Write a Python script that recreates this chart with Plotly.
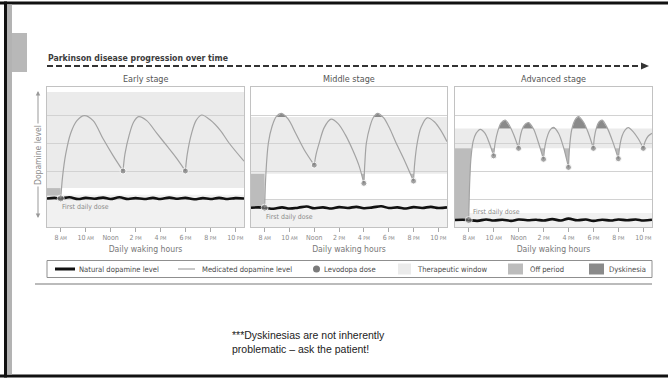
import plotly.graph_objects as go

W, H = 668, 378


def px(x):
    return x / W


def py(y):
    return 1 - y / H


FONT = "DejaVu Sans Condensed, Liberation Sans Narrow, Arial Narrow, sans-serif"

# ---------------- data ----------------
stage_titles = ["Early stage", "Middle stage", "Advanced stage"]
tick_hours = [8, 10, 12, 14, 16, 18, 20, 22]
tick_nums = ["8", "10", "Noon", "2", "4", "6", "8", "10"]
tick_suffix = ["AM", "AM", "", "PM", "PM", "PM", "PM", "PM"]
x_range = [6.9, 22.7]
y_range = [0, 5]

# therapeutic window [low, high] per stage
window = [[1.39, 4.82], [1.9, 3.93], [2.81, 3.52]]
# faint shaded zone under the natural level [low, high]
base_zone = [[0, 1.15], [0, 0.96], [0, 0.5]]

# natural dopamine level (wavy)
nat_x = [6.9, 7.5, 8, 8.7, 9.4, 10, 10.7, 11.4, 12, 12.7, 13.4, 14, 14.7, 15.4, 16, 16.7,
         17.4, 18, 18.7, 19.4, 20, 20.7, 21.4, 22, 22.7]
nat_y = [
    [1.02, 1.04, 1.02, 1.06, 1.0, 1.04, 1.01, 1.05, 1.0, 1.06, 1.0, 1.03, 1.0, 1.04, 1.0,
     1.05, 1.01, 1.04, 0.99, 1.03, 1.0, 1.04, 1.0, 1.03, 1.02],
    [0.69, 0.7, 0.69, 0.65, 0.7, 0.66, 0.69, 0.73, 0.67, 0.7, 0.66, 0.71, 0.68, 0.72, 0.67,
     0.7, 0.74, 0.68, 0.7, 0.66, 0.71, 0.68, 0.72, 0.68, 0.7],
    [0.25, 0.26, 0.25, 0.22, 0.27, 0.23, 0.26, 0.22, 0.27, 0.24, 0.26, 0.23, 0.28, 0.23, 0.3,
     0.24, 0.27, 0.22, 0.26, 0.23, 0.27, 0.24, 0.27, 0.23, 0.26],
]

# medicated dopamine level, one list of segments (dose to dose) per stage
med_segments = [
    [
        ([8, 8.15, 8.4, 8.8, 9.3, 9.9, 10.6, 11.4, 12.2, 13.0],
         [1.02, 1.8, 2.6, 3.35, 3.8, 3.98, 3.8, 3.15, 2.55, 2.0]),
        ([13.0, 13.15, 13.5, 13.85, 14.25, 14.9, 15.7, 16.6, 17.3, 18.0],
         [2.0, 2.6, 3.3, 3.75, 3.94, 3.8, 3.35, 2.85, 2.45, 2.0]),
        ([18.0, 18.15, 18.5, 18.85, 19.3, 20.0, 20.8, 21.5, 22.7],
         [2.0, 2.6, 3.35, 3.8, 4.0, 3.82, 3.45, 3.0, 2.35]),
    ],
    [
        ([8, 8.1, 8.3, 8.6, 8.95, 9.35, 9.9, 10.5, 11.2, 12.0],
         [0.69, 1.9, 3.0, 3.6, 3.95, 4.06, 3.85, 3.35, 2.75, 2.21]),
        ([12.0, 12.15, 12.4, 12.8, 13.35, 13.9, 14.5, 15.1, 15.6, 16.0],
         [2.21, 2.6, 3.0, 3.55, 3.85, 3.7, 3.3, 2.75, 2.2, 1.56]),
        ([16.0, 16.08, 16.2, 16.5, 16.75, 17.1, 17.6, 18.1, 18.6, 19.3, 20.0],
         [1.56, 2.3, 3.0, 3.6, 3.9, 4.06, 3.9, 3.5, 3.0, 2.35, 1.64]),
        ([20.0, 20.1, 20.3, 20.6, 21.1, 21.7, 22.2, 22.7],
         [1.64, 2.3, 3.0, 3.55, 3.9, 3.75, 3.45, 3.05]),
    ],
    [
        ([8.0, 8.07, 8.17, 8.35, 8.6, 8.93, 9.3, 9.65, 10.0],
         [0.25, 1.5, 2.4, 3.05, 3.35, 3.49, 3.35, 3.0, 2.54]),
        ([10.0, 10.12, 10.35, 10.6, 10.93, 11.3, 11.65, 12.0],
         [2.54, 3.0, 3.45, 3.72, 3.82, 3.6, 3.25, 2.81]),
        ([12.0, 12.1, 12.3, 12.55, 12.8, 13.2, 13.6, 14.0],
         [2.81, 3.15, 3.5, 3.68, 3.73, 3.5, 3.0, 2.42]),
        ([14.0, 14.12, 14.35, 14.55, 14.8, 15.2, 15.6, 16.0],
         [2.42, 2.9, 3.3, 3.48, 3.56, 3.35, 2.85, 2.13]),
        ([16.0, 16.08, 16.25, 16.5, 16.8, 17.2, 17.6, 18.0],
         [2.13, 2.8, 3.45, 3.8, 3.94, 3.75, 3.35, 2.81]),
        ([18.0, 18.08, 18.25, 18.45, 18.7, 19.1, 19.55, 20.0],
         [2.81, 3.2, 3.55, 3.75, 3.82, 3.55, 3.05, 2.44]),
        ([20.0, 20.12, 20.3, 20.55, 20.8, 21.2, 21.6, 22.0],
         [2.44, 2.9, 3.25, 3.47, 3.55, 3.4, 3.15, 2.81]),
        ([22.0, 22.15, 22.4, 22.7],
         [2.81, 3.05, 3.25, 3.35]),
    ],
]

# levodopa doses
dose_x = [[8, 13, 18], [8, 12, 16, 20], [8, 10, 12, 14, 16, 18, 20, 22]]
dose_y = [[1.02, 2.0, 2.0], [0.69, 2.21, 1.56, 1.64],
          [0.25, 2.54, 2.81, 2.42, 2.13, 2.81, 2.44, 2.81]]

# off periods (polygons)
off_polys = [
    [([6.9, 6.9, 8.0, 8.0], [1.12, 1.39, 1.39, 1.12])],
    [([6.9, 6.9, 8.0, 8.0], [0.69, 1.9, 1.9, 0.69]),
     ([15.8, 16.0, 16.04], [1.9, 1.56, 1.9]),
     ([19.74, 20.0, 20.04], [1.9, 1.64, 1.9])],
    [([6.9, 6.9, 8.22, 8.07, 8.0], [0.25, 2.81, 2.81, 1.5, 0.25]),
     ([9.79, 10.0, 10.06], [2.81, 2.54, 2.81]),
     ([13.73, 14.0, 14.05], [2.81, 2.42, 2.81]),
     ([15.62, 16.0, 16.08], [2.81, 2.13, 2.81]),
     ([19.73, 20.0, 20.07], [2.81, 2.44, 2.81])],
]

# dyskinesia (polygons above window top)
dysk_polys = [
    [],
    [([8.95, 9.35, 9.8], [3.93, 4.06, 3.93]),
     ([16.75, 17.1, 17.5], [3.93, 4.06, 3.93])],
    [([10.41, 10.6, 10.93, 11.3, 11.38], [3.52, 3.72, 3.82, 3.6, 3.52]),
     ([12.32, 12.55, 12.8, 13.17], [3.52, 3.68, 3.73, 3.52]),
     ([14.6, 14.8, 15.05], [3.52, 3.56, 3.52]),
     ([16.3, 16.5, 16.8, 17.2, 17.45], [3.52, 3.8, 3.94, 3.75, 3.52]),
     ([18.22, 18.45, 18.7, 19.1, 19.13], [3.52, 3.75, 3.82, 3.55, 3.52])],
]

legend_labels = ["Natural dopamine level", "Medicated dopamine level", "Levodopa dose",
                 "Therapeutic window", "Off period", "Dyskinesia"]

title_text = "Parkinson disease progression over time"
x_title = "Daily waking hours"
y_title = "Dopamine level"
first_dose_label = "First daily dose"
footnote = ["***Dyskinesias are not inherently", "problematic \u2013 ask the patient!"]

# ---------------- styles ----------------
C_WINDOW = "#ebebeb"
C_BASE = "#f1f1f1"
C_OFF = "#bcbcbc"
C_DYSK = "#8a8a8a"
C_MED = "#a3a3a3"
C_DOT = "#7b7b7b"
C_NAT = "#111111"
C_GRID = "#d2d2d2"
C_BOX = "#c2c2c2"

panel_x = [(47, 244), (251, 447), (455, 652)]
panel_y = (87, 227)

fig = go.Figure()


def join(polys):
    xs, ys = [], []
    for px_, py_ in polys:
        xs += list(px_) + [px_[0], None]
        ys += list(py_) + [py_[0], None]
    return xs, ys


shapes = []
annotations = []

tick_text = [
    f"{n}<span style='font-size:5px'> {s}</span>" if s else n
    for n, s in zip(tick_nums, tick_suffix)
]

for i in range(3):
    xa = "x" if i == 0 else f"x{i + 1}"
    ya = "y" if i == 0 else f"y{i + 1}"

    # therapeutic window band and base zone (below grid)
    shapes.append(dict(type="rect", xref=xa, yref=ya, x0=x_range[0], x1=x_range[1],
                       y0=window[i][0], y1=window[i][1], fillcolor=C_WINDOW,
                       line=dict(width=0), layer="below"))
    shapes.append(dict(type="rect", xref=xa, yref=ya, x0=x_range[0], x1=x_range[1],
                       y0=base_zone[i][0], y1=base_zone[i][1], fillcolor=C_BASE,
                       line=dict(width=0), layer="below"))

    if off_polys[i]:
        ox, oy = join(off_polys[i])
        fig.add_trace(go.Scatter(x=ox, y=oy, xaxis=xa, yaxis=ya, mode="lines", fill="toself",
                                 fillcolor=C_OFF, line=dict(width=0), hoverinfo="skip",
                                 showlegend=False))
    if dysk_polys[i]:
        dx, dy = join(dysk_polys[i])
        fig.add_trace(go.Scatter(x=dx, y=dy, xaxis=xa, yaxis=ya, mode="lines", fill="toself",
                                 fillcolor=C_DYSK, line=dict(width=0), hoverinfo="skip",
                                 showlegend=False))

    # natural dopamine
    fig.add_trace(go.Scatter(x=nat_x, y=nat_y[i], xaxis=xa, yaxis=ya, mode="lines",
                             line=dict(color=C_NAT, width=2.6, shape="spline", smoothing=1.1),
                             showlegend=False, hoverinfo="skip"))

    # medicated dopamine
    mx, my = [], []
    for sx, sy in med_segments[i]:
        mx += list(sx) + [None]
        my += list(sy) + [None]
    fig.add_trace(go.Scatter(x=mx, y=my, xaxis=xa, yaxis=ya, mode="lines",
                             line=dict(color=C_MED, width=1.2, shape="spline", smoothing=0.9),
                             connectgaps=False, showlegend=False, hoverinfo="skip"))

    # doses
    fig.add_trace(go.Scatter(x=dose_x[i], y=dose_y[i], xaxis=xa, yaxis=ya, mode="markers",
                             marker=dict(color=C_DOT, size=[7] + [6] * (len(dose_x[i]) - 1)),
                             showlegend=False, hoverinfo="skip"))

    ax_common = dict(range=x_range, showgrid=False, zeroline=False, showline=True, mirror=True,
                     linecolor=C_BOX, linewidth=1, ticks="outside", ticklen=4, tickcolor="#a8a8a8",
                     tickvals=tick_hours, ticktext=tick_text,
                     tickfont=dict(family=FONT, size=7, color="#8a8a8a"),
                     domain=[px(panel_x[i][0]), px(panel_x[i][1])], anchor=ya,
                     title=dict(text=x_title, font=dict(family=FONT, size=8.6, color="#777777"),
                                standoff=4))
    ay_common = dict(range=y_range, showgrid=True, gridcolor=C_GRID, gridwidth=1, zeroline=False,
                     showline=True, mirror=True, linecolor=C_BOX, linewidth=1,
                     tickvals=[1, 2, 3, 4], showticklabels=False, ticks="",
                     domain=[py(panel_y[1]), py(panel_y[0])], anchor=xa)
    fig.update_layout(**{("xaxis" if i == 0 else f"xaxis{i + 1}"): ax_common,
                         ("yaxis" if i == 0 else f"yaxis{i + 1}"): ay_common})

    # stage title
    annotations.append(dict(text=stage_titles[i], xref="paper", yref="paper",
                            x=px((panel_x[i][0] + panel_x[i][1]) / 2), y=py(79),
                            showarrow=False, xanchor="center", yanchor="middle",
                            font=dict(family=FONT, size=9, color="#555555")))

# first dose labels
first_pos = [(7.95, 0.72), (7.95, 0.35), (8.15, 0.55)]
for i, (fx, fy) in enumerate(first_pos):
    xa = "x" if i == 0 else f"x{i + 1}"
    ya = "y" if i == 0 else f"y{i + 1}"
    annotations.append(dict(text=first_dose_label, xref=xa, yref=ya, x=fx, y=fy,
                            showarrow=False, xanchor="left", yanchor="middle",
                            font=dict(family=FONT, size=6.9, color="#8a8a8a")))

# main title and dashed arrow
annotations.append(dict(text=title_text, xref="paper", yref="paper", x=px(46), y=py(58),
                        showarrow=False, xanchor="left", yanchor="middle",
                        font=dict(family=FONT, size=8.7, color="#3c3c3c", weight="bold")))
shapes.append(dict(type="line", xref="paper", yref="paper", x0=px(47), x1=px(642),
                   y0=py(66), y1=py(66), line=dict(color="#333333", width=2, dash="6px,3px")))
shapes.append(dict(type="path", xref="paper", yref="paper",
                   path=f"M {px(641)} {py(62.5)} L {px(649)} {py(66)} L {px(641)} {py(69.5)} Z",
                   fillcolor="#333333", line=dict(width=0)))

# y-axis label with double arrow
annotations.append(dict(text="", xref="paper", yref="paper", x=px(38), y=py(91),
                        ax=0, ay=61, axref="pixel", ayref="pixel",
                        showarrow=True, arrowhead=2, arrowsize=0.9, arrowwidth=1,
                        arrowcolor="#999999"))
annotations.append(dict(text="", xref="paper", yref="paper", x=px(38), y=py(218),
                        ax=0, ay=-66, axref="pixel", ayref="pixel",
                        showarrow=True, arrowhead=2, arrowsize=0.9, arrowwidth=1,
                        arrowcolor="#999999"))
annotations.append(dict(text=y_title, xref="paper", yref="paper", x=px(38), y=py(155),
                        showarrow=False, textangle=-90, bgcolor="white",
                        xanchor="center", yanchor="middle",
                        font=dict(family=FONT, size=8.5, color="#8a8a8a")))

# legend (manual)
shapes.append(dict(type="rect", xref="paper", yref="paper", x0=px(47), x1=px(652),
                   y0=py(277.5), y1=py(260.5), line=dict(color="#8f8f8f", width=1),
                   fillcolor="white"))
LY = 269
shapes.append(dict(type="line", xref="paper", yref="paper", x0=px(55), x1=px(75),
                   y0=py(LY), y1=py(LY), line=dict(color=C_NAT, width=3)))
shapes.append(dict(type="line", xref="paper", yref="paper", x0=px(178), x1=px(195),
                   y0=py(LY), y1=py(LY), line=dict(color=C_MED, width=1.2)))
shapes.append(dict(type="circle", xref="paper", yref="paper", x0=px(313), x1=px(320),
                   y0=py(LY - 3.5), y1=py(LY + 3.5), fillcolor=C_DOT, line=dict(width=0)))
for (a, b), col in zip([(398, 411), (508, 523), (589, 604)], [C_WINDOW, C_OFF, C_DYSK]):
    shapes.append(dict(type="rect", xref="paper", yref="paper", x0=px(a), x1=px(b),
                       y0=py(LY + 5.5), y1=py(LY - 5.5), fillcolor=col, line=dict(width=0)))
for lx, lab in zip([77, 200, 322, 415, 528, 607], legend_labels):
    annotations.append(dict(text=lab, xref="paper", yref="paper", x=px(lx), y=py(LY),
                            showarrow=False, xanchor="left", yanchor="middle",
                            font=dict(family=FONT, size=7.6, color="#4a4a4a")))
shapes.append(dict(type="line", xref="paper", yref="paper", x0=px(35), x1=px(652),
                   y0=py(284), y1=py(284), line=dict(color="#bbbbbb", width=2)))

# footnote
annotations.append(dict(text=footnote[0] + "<br>" + footnote[1], xref="paper", yref="paper",
                        x=px(230), y=py(342), showarrow=False, xanchor="left", yanchor="middle",
                        align="left",
                        font=dict(family="Liberation Sans, Arial, sans-serif", size=10.5,
                                  color="#222222")))

# slide frame
shapes.append(dict(type="rect", xref="paper", yref="paper", x0=0, x1=1, y0=py(4.5), y1=py(1.5),
                   fillcolor="#111111", line=dict(width=0)))
shapes.append(dict(type="rect", xref="paper", yref="paper", x0=0, x1=1, y0=py(377.5),
                   y1=py(374.5), fillcolor="#111111", line=dict(width=0)))
shapes.append(dict(type="rect", xref="paper", yref="paper", x0=px(4), x1=px(7), y0=py(377.5),
                   y1=py(1.5), fillcolor="#111111", line=dict(width=0)))
shapes.append(dict(type="rect", xref="paper", yref="paper", x0=px(7), x1=px(12), y0=py(374.5),
                   y1=py(4.5), fillcolor="#b3b3b3", line=dict(width=0)))
shapes.append(dict(type="rect", xref="paper", yref="paper", x0=px(12), x1=px(27), y0=py(72),
                   y1=py(33), fillcolor="#b8b8b8", line=dict(width=0)))

fig.update_layout(width=W, height=H, margin=dict(l=0, r=0, t=0, b=0),
                  paper_bgcolor="white", plot_bgcolor="white", showlegend=False,
                  shapes=shapes, annotations=annotations,
                  font=dict(family=FONT))

fig.write_html("out.html", config={"displayModeBar": False},
               post_script="document.body.style.margin='0';document.body.style.overflow='hidden';")
